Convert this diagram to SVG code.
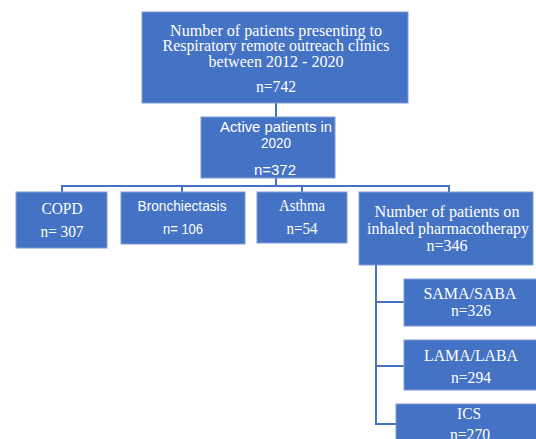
<svg xmlns="http://www.w3.org/2000/svg" width="536" height="439" viewBox="0 0 536 439">
<style>
.box{fill:#4472C4;stroke:#7F9BD6;stroke-width:1}
.s{font-family:"Liberation Serif","Times New Roman",serif;font-size:17px;fill:#fff;text-anchor:middle}
.a{font-family:"Liberation Sans",Arial,sans-serif;font-size:15.5px;fill:#fff;text-anchor:middle}
.c{fill:none;stroke:#4472C4;stroke-width:2}
</style>
<rect width="536" height="439" fill="#fff"/>
<g id="connectors">
<path class="c" d="M276 103V118"/>
<path class="c" d="M276 178V186M62 192V186H449V192M182 186V192M302 186V192"/>
<path class="c" d="M376 265V424H396M376 302H404M376 366H404"/>
</g>
<g id="n_top">
<rect class="box" x="142" y="12" width="266" height="91"/>
<text class="s" x="276" y="36" textLength="212" lengthAdjust="spacingAndGlyphs">Number of patients presenting to</text>
<text class="s" x="276" y="51" textLength="227" lengthAdjust="spacingAndGlyphs">Respiratory remote outreach clinics</text>
<text class="s" x="276" y="67" textLength="135" lengthAdjust="spacingAndGlyphs">between 2012 - 2020</text>
<text class="s" x="276" y="92" textLength="40" lengthAdjust="spacingAndGlyphs">n=742</text>
</g>
<g id="n_active">
<rect class="box" x="201" y="117" width="134" height="61"/>
<text class="a" x="276" y="132" textLength="112" lengthAdjust="spacingAndGlyphs">Active patients in</text>
<text class="a" x="276" y="148" textLength="30" lengthAdjust="spacingAndGlyphs">2020</text>
<text class="a" x="275" y="175" textLength="42" lengthAdjust="spacingAndGlyphs">n=372</text>
</g>
<g id="n_copd">
<rect class="box" x="16" y="192" width="91" height="56"/>
<text class="s" x="62" y="214" textLength="41" lengthAdjust="spacingAndGlyphs">COPD</text>
<text class="s" x="62" y="237" textLength="43" lengthAdjust="spacingAndGlyphs">n= 307</text>
</g>
<g id="n_bronch">
<rect class="box" x="121" y="192" width="124" height="52"/>
<text class="a" x="182" y="211" textLength="89" lengthAdjust="spacingAndGlyphs">Bronchiectasis</text>
<text class="a" x="183" y="234" textLength="40" lengthAdjust="spacingAndGlyphs">n= 106</text>
</g>
<g id="n_asthma">
<rect class="box" x="257" y="192" width="90" height="51"/>
<text class="s" x="302" y="211" textLength="46" lengthAdjust="spacingAndGlyphs">Asthma</text>
<text class="s" x="302" y="234" textLength="31" lengthAdjust="spacingAndGlyphs">n=54</text>
</g>
<g id="n_inhaled">
<rect class="box" x="359" y="192" width="174" height="73"/>
<text class="s" x="447" y="217" textLength="145" lengthAdjust="spacingAndGlyphs">Number of patients on</text>
<text class="s" x="448" y="234" textLength="162" lengthAdjust="spacingAndGlyphs">inhaled pharmacotherapy</text>
<text class="s" x="447" y="251" textLength="41" lengthAdjust="spacingAndGlyphs">n=346</text>
</g>
<g id="n_sama">
<rect class="box" x="404" y="279" width="133" height="47"/>
<text class="s" x="470" y="299" textLength="93" lengthAdjust="spacingAndGlyphs">SAMA/SABA</text>
<text class="s" x="471" y="316" textLength="40" lengthAdjust="spacingAndGlyphs">n=326</text>
</g>
<g id="n_lama">
<rect class="box" x="404" y="340" width="133" height="50"/>
<text class="s" x="471" y="361" textLength="94" lengthAdjust="spacingAndGlyphs">LAMA/LABA</text>
<text class="s" x="471" y="383" textLength="40" lengthAdjust="spacingAndGlyphs">n=294</text>
</g>
<g id="n_ics">
<rect class="box" x="396" y="404" width="141" height="40"/>
<text class="s" x="469" y="419" textLength="24" lengthAdjust="spacingAndGlyphs">ICS</text>
<text class="s" x="470" y="440" textLength="40" lengthAdjust="spacingAndGlyphs">n=270</text>
</g>
</svg>
